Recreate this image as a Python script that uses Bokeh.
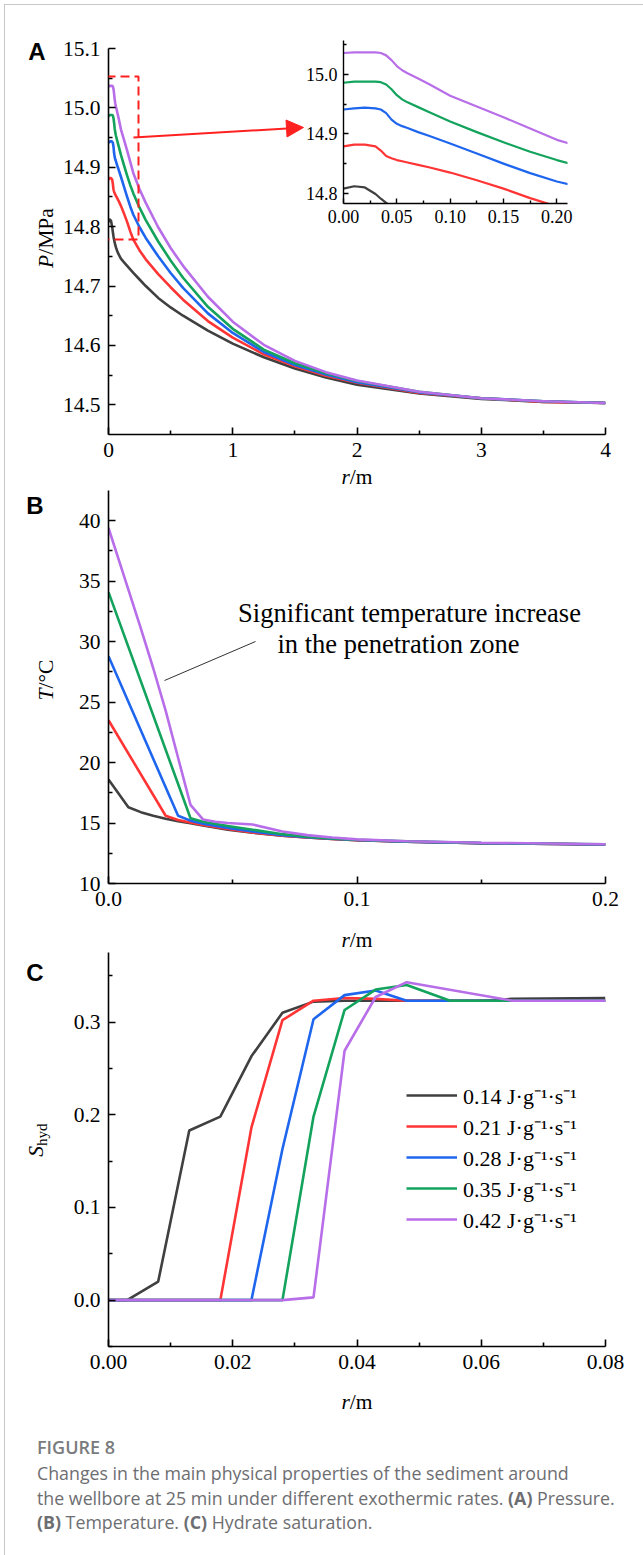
from bokeh.plotting import figure
from bokeh.models import (Range1d, FixedTicker, PrintfTickFormatter, Label, BoxAnnotation,
                          Arrow, NormalHead, Legend, LegendItem, Div)
from bokeh.layouts import column
from bokeh.embed import file_html
from bokeh.resources import INLINE

SERIF = "Liberation Serif"
SANS = "Liberation Sans"

# ---------------- data ----------------
rates = ["0.14", "0.21", "0.28", "0.35", "0.42"]
colors = ["#404040", "#ff3535", "#1f66ee", "#13a35c", "#b86ee8"]

# Panel A : pressure (MPa) vs r (m)
pa_r = [0, 0.01, 0.02, 0.03, 0.035, 0.04, 0.045, 0.05, 0.055, 0.06, 0.07, 0.08, 0.1, 0.125,
        0.15, 0.175, 0.2, 0.25, 0.3, 0.4, 0.5, 0.6, 0.8, 1.0, 1.25, 1.5, 1.75, 2.0, 2.5, 3.0,
        3.5, 4.0]
pa_014 = [14.808, 14.812, 14.810, 14.799, 14.791, 14.784, 14.778, 14.773, 14.769, 14.765, 14.759,
          14.754, 14.746, 14.740, 14.734, 14.728, 14.722, 14.711, 14.700, 14.680, 14.664, 14.650,
          14.625, 14.603, 14.580, 14.561, 14.546, 14.534, 14.519, 14.510, 14.505, 14.503]
pa_021 = [14.879, 14.882, 14.882, 14.879, 14.872, 14.863, 14.859, 14.856, 14.854, 14.852, 14.848,
          14.844, 14.835, 14.822, 14.808, 14.792, 14.778, 14.760, 14.745, 14.720, 14.698, 14.677,
          14.641, 14.613, 14.585, 14.565, 14.549, 14.537, 14.520, 14.511, 14.505, 14.503]
pa_028 = [14.941, 14.943, 14.944, 14.943, 14.941, 14.935, 14.924, 14.917, 14.913, 14.910, 14.903,
          14.897, 14.884, 14.867, 14.850, 14.834, 14.820, 14.799, 14.781, 14.750, 14.722, 14.697,
          14.654, 14.621, 14.589, 14.567, 14.551, 14.538, 14.521, 14.511, 14.506, 14.503]
pa_035 = [14.986, 14.988, 14.988, 14.988, 14.987, 14.983, 14.975, 14.965, 14.958, 14.953, 14.945,
          14.937, 14.921, 14.903, 14.886, 14.870, 14.856, 14.832, 14.811, 14.775, 14.743, 14.714,
          14.665, 14.628, 14.593, 14.570, 14.553, 14.540, 14.522, 14.511, 14.506, 14.503]
pa_042 = [15.036, 15.037, 15.037, 15.037, 15.036, 15.032, 15.024, 15.014, 15.007, 15.002, 14.993,
          14.984, 14.964, 14.946, 14.928, 14.909, 14.890, 14.863, 14.840, 14.799, 14.764, 14.734,
          14.682, 14.640, 14.601, 14.574, 14.555, 14.541, 14.522, 14.511, 14.506, 14.503]

# Panel B : temperature (degC) vs r (m)
tb_r_014 = [0, 0.008, 0.013, 0.018, 0.023, 0.028, 0.033, 0.038, 0.048, 0.058, 0.07, 0.08, 0.09,
            0.1, 0.12, 0.15, 0.2]
tb_014 = [18.6, 16.3, 15.9, 15.6, 15.35, 15.15, 14.98, 14.8, 14.45, 14.2, 13.95, 13.8, 13.68,
          13.58, 13.45, 13.33, 13.22]
tb_r_021 = [0, 0.023, 0.028, 0.033, 0.038, 0.048, 0.058, 0.07, 0.08, 0.09, 0.1, 0.12, 0.15, 0.2]
tb_021 = [23.5, 15.6, 15.25, 15.05, 14.85, 14.5, 14.22, 13.96, 13.8, 13.68, 13.58, 13.45, 13.33, 13.22]
tb_r_028 = [0, 0.028, 0.033, 0.038, 0.048, 0.058, 0.07, 0.08, 0.09, 0.1, 0.12, 0.15, 0.2]
tb_028 = [28.8, 15.6, 15.2, 14.95, 14.6, 14.3, 14.0, 13.82, 13.7, 13.6, 13.46, 13.34, 13.23]
tb_r_035 = [0, 0.033, 0.038, 0.048, 0.058, 0.07, 0.08, 0.09, 0.1, 0.12, 0.15, 0.2]
tb_035 = [34.1, 15.4, 15.1, 14.75, 14.45, 14.08, 13.87, 13.73, 13.62, 13.48, 13.35, 13.24]
tb_r_042 = [0, 0.008, 0.013, 0.018, 0.023, 0.028, 0.033, 0.038, 0.043, 0.048, 0.058, 0.07, 0.08,
            0.09, 0.1, 0.12, 0.15, 0.2]
tb_042 = [39.4, 34.3, 31.1, 27.8, 24.3, 20.4, 16.5, 15.3, 15.1, 15.0, 14.88, 14.3, 14.0, 13.8,
          13.65, 13.5, 13.37, 13.25]

# Panel C : hydrate saturation vs r (m)
sc_r_014 = [0, 0.003, 0.008, 0.013, 0.018, 0.023, 0.028, 0.033, 0.038, 0.048, 0.06, 0.065, 0.08]
sc_014 = [0, 0, 0.020, 0.183, 0.198, 0.263, 0.310, 0.322, 0.323, 0.323, 0.323, 0.325, 0.326]
sc_r_021 = [0, 0.018, 0.023, 0.028, 0.033, 0.038, 0.043, 0.048, 0.08]
sc_021 = [0, 0, 0.186, 0.302, 0.323, 0.326, 0.325, 0.323, 0.323]
sc_r_028 = [0, 0.023, 0.028, 0.033, 0.038, 0.043, 0.048, 0.08]
sc_028 = [0, 0, 0.163, 0.303, 0.329, 0.334, 0.323, 0.323]
sc_r_035 = [0, 0.028, 0.033, 0.038, 0.043, 0.048, 0.055, 0.08]
sc_035 = [0, 0, 0.198, 0.313, 0.335, 0.340, 0.323, 0.323]
sc_r_042 = [0, 0.028, 0.033, 0.038, 0.043, 0.048, 0.065, 0.08]
sc_042 = [0, 0, 0.003, 0.269, 0.327, 0.343, 0.323, 0.323]

# ticks
a_xticks, a_xminor = [0, 1, 2, 3, 4], [0.5, 1.5, 2.5, 3.5]
a_yticks = [14.5, 14.6, 14.7, 14.8, 14.9, 15.0, 15.1]
a_yminor = [14.55, 14.65, 14.75, 14.85, 14.95, 15.05]
in_xticks = [0.0, 0.05, 0.10, 0.15, 0.20]
in_xminor = [0.025, 0.075, 0.125, 0.175]
in_yticks = [14.8, 14.9, 15.0]
in_yminor = [14.85, 14.95, 15.05]
b_xticks, b_xminor = [0.0, 0.1, 0.2], [0.05, 0.15]
b_yticks = [10, 15, 20, 25, 30, 35, 40]
b_yminor = [12.5, 17.5, 22.5, 27.5, 32.5, 37.5]
c_xticks = [0.0, 0.02, 0.04, 0.06, 0.08]
c_xminor = [0.01, 0.03, 0.05, 0.07]
c_yticks = [0.0, 0.1, 0.2, 0.3]
c_yminor = [-0.05, 0.05, 0.15, 0.25, 0.35]

# ---------------- geometry helpers (page px -> data) ----------------
A_FR = (108, 605, 48, 434, 0.0, 4.0, 15.1, 14.45)
B_FR = (108, 605, 490, 883, 0.0, 0.2, 42.5, 10.0)
C_FR = (108, 605, 952, 1346, 0.0, 0.08, 0.375, -0.05)


def dx(fr, px):
    return fr[4] + (px - fr[0]) / (fr[1] - fr[0]) * (fr[5] - fr[4])


def dy(fr, py):
    return fr[6] + (py - fr[2]) / (fr[3] - fr[2]) * (fr[7] - fr[6])


def make_fig(w, h, xr, yr, bl, br, bt, bb):
    p = figure(width=w, height=h, x_range=Range1d(*xr), y_range=Range1d(*yr),
               output_backend="svg", toolbar_location=None, title=None,
               min_border_left=bl, min_border_right=br, min_border_top=bt,
               min_border_bottom=bb)
    p.grid.visible = False
    p.outline_line_color = None
    return p


def style_axes(p, xt, xm, yt, ym, xf, yf, fs="21.5px", tin=7, mtin=4, lw=1.6):
    p.xaxis.ticker = FixedTicker(ticks=xt, minor_ticks=xm)
    p.yaxis.ticker = FixedTicker(ticks=yt, minor_ticks=ym)
    p.xaxis.formatter = PrintfTickFormatter(format=xf)
    p.yaxis.formatter = PrintfTickFormatter(format=yf)
    for ax in (p.xaxis[0], p.yaxis[0]):
        ax.axis_line_width = lw
        ax.axis_line_color = "black"
        ax.major_tick_in = tin
        ax.major_tick_out = 0
        ax.minor_tick_in = mtin
        ax.minor_tick_out = 0
        ax.major_tick_line_width = lw
        ax.minor_tick_line_width = lw
        ax.major_tick_line_color = "black"
        ax.minor_tick_line_color = "black"
        ax.major_label_text_font = SERIF
        ax.major_label_text_font_size = fs
        ax.major_label_text_color = "black"
        ax.major_label_standoff = 8


LW = 2.6

# ---------------- Panel A ----------------
pA = make_fig(643, 488, (0, 4), (14.45, 15.1), 108, 38, 48, 54)
style_axes(pA, a_xticks, a_xminor, a_yticks, a_yminor, "%d", "%.1f")
for ys, c in zip([pa_014, pa_021, pa_028, pa_035, pa_042], colors):
    pA.line(pa_r, ys, line_color=c, line_width=LW, line_join="round")

box_lrtb = [dx(A_FR, 106), dx(A_FR, 138), dy(A_FR, 76), dy(A_FR, 239)]
pA.add_layout(BoxAnnotation(left=box_lrtb[0], right=box_lrtb[1], top=box_lrtb[2],
                            bottom=box_lrtb[3], fill_alpha=0, line_color="#ff2020",
                            line_alpha=1.0, line_width=2, line_dash="9 5"))
arrow_xy = [dx(A_FR, 133), dy(A_FR, 137), dx(A_FR, 303), dy(A_FR, 127)]
pA.add_layout(Arrow(end=NormalHead(size=17, fill_color="#ff2020", line_color="#ff2020"),
                    x_start=arrow_xy[0], y_start=arrow_xy[1], x_end=arrow_xy[2],
                    y_end=arrow_xy[3], line_color="#ff2020", line_width=2))

# ---------------- Inset (separate root, positioned over panel A) ----------------
pI = make_fig(279, 206, (0, 0.21), (14.783, 15.057), 45, 10, 8, 35)
style_axes(pI, in_xticks, in_xminor, in_yticks, in_yminor, "%.2f", "%.1f", fs="18px",
           tin=5, mtin=3, lw=1.4)
pI.xaxis.major_label_standoff = 6
pI.yaxis.major_label_standoff = 6
pI.background_fill_alpha = 0
pI.border_fill_alpha = 0
for ys, c in zip([pa_014, pa_021, pa_028, pa_035, pa_042], colors):
    pI.line(pa_r, ys, line_color=c, line_width=2.2, line_join="round")
pI.styles = {"position": "absolute", "left": "298px", "top": "32px"}

# ---------------- Panel B ----------------
pB = make_fig(643, 462, (0, 0.2), (10, 42.5), 108, 38, 2, 67)
style_axes(pB, b_xticks, b_xminor, b_yticks, b_yminor, "%.1f", "%d")
for xs, ys, c in zip([tb_r_014, tb_r_021, tb_r_028, tb_r_035, tb_r_042],
                     [tb_014, tb_021, tb_028, tb_035, tb_042], colors):
    pB.line(xs, ys, line_color=c, line_width=LW)
lead = [dx(B_FR, 164), dy(B_FR, 680), dx(B_FR, 255), dy(B_FR, 641)]
pB.segment(x0=[lead[0]], y0=[lead[1]], x1=[lead[2]], y1=[lead[3]], line_color="#333333",
           line_width=1)
for txt, px, py in [("Significant temperature increase", 409, 612),
                    ("in the penetration zone", 398, 643)]:
    pB.add_layout(Label(x=dx(B_FR, px), y=dy(B_FR, py), text=txt, text_font=SERIF,
                        text_font_size="26.5px", text_align="center", text_baseline="middle",
                        text_color="black"))

# ---------------- Panel C ----------------
pC = make_fig(643, 470, (0, 0.08), (-0.05, 0.375), 108, 38, 2, 74)
style_axes(pC, c_xticks, c_xminor, c_yticks, c_yminor, "%.2f", "%.1f")
items = []
for xs, ys, c, r in zip([sc_r_014, sc_r_021, sc_r_028, sc_r_035, sc_r_042],
                        [sc_014, sc_021, sc_028, sc_035, sc_042], colors, rates):
    rr = pC.line(xs, ys, line_color=c, line_width=LW)
    items.append(LegendItem(label=r + " J\u00b7g\u207b\u00b9\u00b7s\u207b\u00b9", renderers=[rr]))
leg = Legend(items=items, location=(298, 112), glyph_width=51, glyph_height=24,
             label_height=24, spacing=1, padding=0, margin=0, label_standoff=6,
             border_line_color=None, background_fill_alpha=0,
             label_text_font=SERIF, label_text_font_size="22px", label_text_color="black")
pC.add_layout(leg)

# ---------------- Caption ----------------
cap_html = (
    "<div style=\"font-family:'Open Sans'; color:#6d6e71; padding-left:37px; padding-top:14px;\">"
    "<div style=\"font-size:18px; line-height:27px; font-weight:600; color:#7a7b7d;\">FIGURE 8</div>"
    "<div style=\"font-size:17.8px; line-height:24.5px;\">"
    "Changes in the main physical properties of the sediment around<br>"
    "the wellbore at 25 min under different exothermic rates. <b>(A)</b> Pressure.<br>"
    "<b>(B)</b> Temperature. <b>(C)</b> Hydrate saturation.</div></div>"
)
cap = Div(text=cap_html, width=643, height=135, margin=0)


# ---------------- overlay texts (panel letters, axis titles) ----------------
def hbox(cx, cy, html, size, font=SERIF, weight="normal", w=90, h=26):
    return ("<div style=\"position:absolute; left:%.1fpx; top:%.1fpx; width:%dpx; height:%dpx; "
            "line-height:%dpx; text-align:center; font-family:'%s'; font-size:%s; "
            "font-weight:%s; color:black; white-space:nowrap;\">%s</div>"
            % (cx - w / 2, cy - h / 2, w, h, h, font, size, weight, html))


def vbox(cx, cy, html, size, font=SERIF, w=90, h=26):
    return ("<div style=\"position:absolute; left:%.1fpx; top:%.1fpx; width:%dpx; height:%dpx; "
            "line-height:%dpx; text-align:center; font-family:'%s'; font-size:%s; color:black; "
            "white-space:nowrap; transform:rotate(-90deg);\">%s</div>"
            % (cx - w / 2, cy - h / 2, w, h, h, font, size, html))


ov = ["<div style=\"position:relative; width:643px; height:1555px;\">",
      "<div style=\"position:absolute; left:4px; top:4px; width:639px; height:1551px; "
      "box-sizing:border-box; border-left:1px solid #c8c8c8; border-top:1px solid #c8c8c8;\"></div>",
      hbox(37, 52, "A", "24px", font=SANS, weight="bold", w=30, h=28),
      hbox(35, 506, "B", "24px", font=SANS, weight="bold", w=30, h=28),
      hbox(35, 973, "C", "24px", font=SANS, weight="bold", w=30, h=28),
      vbox(45.7, 238, "<i>P</i>/MPa", "21.5px"),
      vbox(45.7, 680, "<i>T</i>/\u00b0C", "21.5px"),
      vbox(35.7, 1140, "<i>S</i><span style=\"font-size:15px; vertical-align:-4px; "
                       "line-height:0;\">hyd</span>", "21.5px"),
      hbox(357, 477, "<i>r</i>/m", "21.5px"),
      hbox(357, 940, "<i>r</i>/m", "21.5px"),
      hbox(357, 1402, "<i>r</i>/m", "21.5px"),
      "</div>"]
overlay = Div(text="".join(ov), width=643, height=1555, margin=0,
              styles={"position": "absolute", "left": "0px", "top": "0px"})

layout = column(pA, pB, pC, cap, overlay, spacing=0)
open("out.html", "w").write(file_html([layout, pI], INLINE))
